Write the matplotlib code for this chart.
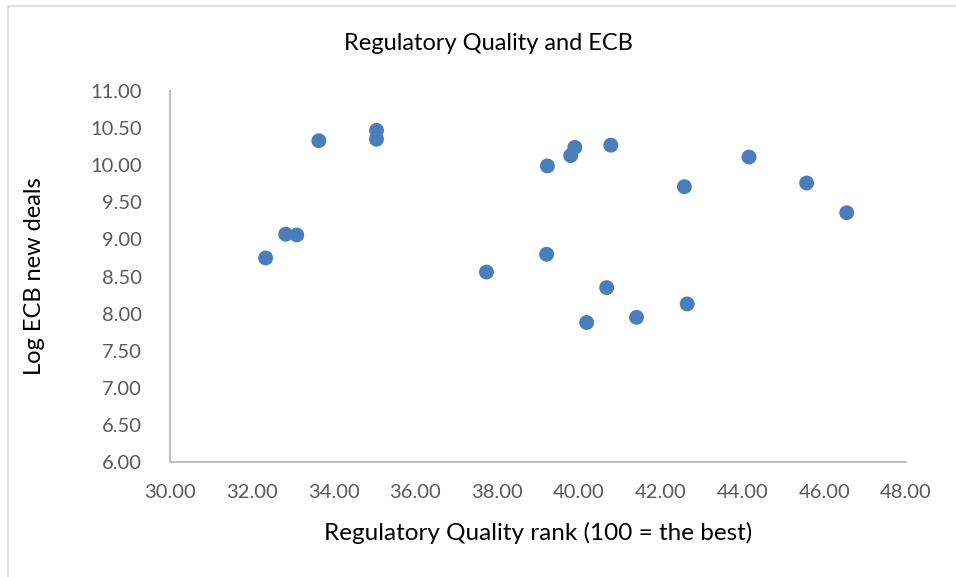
import matplotlib.pyplot as plt
from matplotlib.patches import Rectangle

# Regulatory quality rank vs log of ECB new deals
reg_quality = [32.34, 32.83, 33.10, 33.64, 35.05, 35.05, 37.74, 39.21, 39.23, 39.80,
               39.90, 40.19, 40.68, 40.78, 41.41, 42.58, 42.65, 44.16, 45.57, 46.55]
log_ecb = [8.75, 9.07, 9.06, 10.33, 10.47, 10.35, 8.56, 8.80, 9.99, 10.13,
           10.24, 7.88, 8.35, 10.27, 7.95, 9.71, 8.13, 10.11, 9.76, 9.36]

plt.rcParams['font.family'] = ['Lato', 'DejaVu Sans']

fig = plt.figure(figsize=(9.56, 5.77), dpi=100)
ax = fig.add_axes([170/956, 1 - 462/577, (906 - 170)/956, (462 - 91)/577])

ax.scatter(reg_quality, log_ecb, s=115, color='#4a7ebb', edgecolors='none', zorder=3)

ax.set_xlim(30, 48)
ax.set_ylim(6, 11)
ax.set_xticks([30 + 2*i for i in range(10)])
ax.set_yticks([6 + 0.5*i for i in range(11)])
ax.xaxis.set_major_formatter(plt.FormatStrFormatter('%.2f'))
ax.yaxis.set_major_formatter(plt.FormatStrFormatter('%.2f'))
ax.tick_params(length=0, labelsize=14.5, labelcolor='#595959')
ax.tick_params(axis='x', pad=16)
ax.tick_params(axis='y', pad=20)

for side in ['top', 'right']:
    ax.spines[side].set_visible(False)
for side in ['left', 'bottom']:
    ax.spines[side].set_color('#bfbfbf')
    ax.spines[side].set_linewidth(1.5)

fig.text(488/956, 1 - 43/577, 'Regulatory Quality and ECB', ha='center', va='center',
         fontsize=17, color='#000000')
fig.text(538/956, 1 - 533/577, 'Regulatory Quality rank (100 = the best)', ha='center',
         va='center', fontsize=17.5, color='#000000')
fig.text(35/956, 1 - 276/577, 'Log ECB new deals', ha='center', va='center',
         rotation=90, fontsize=17, color='#000000')

# light frame around the chart area
fig.patches.append(Rectangle((8/956, -0.05), 1.1, 1.05 - 5.5/577, transform=fig.transFigure,
                             fill=False, edgecolor='#d9d9d9', linewidth=1.2))

fig.savefig('out.png', dpi=100)
